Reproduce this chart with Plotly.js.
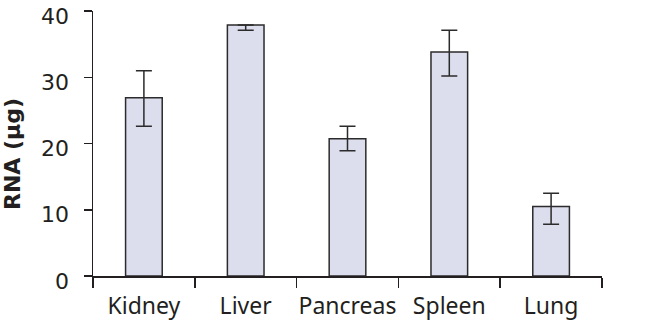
<!DOCTYPE html>
<html><head><meta charset="utf-8">
<script src="https://cdn.plot.ly/plotly-3.0.1.min.js"></script>
<style>body{margin:0;background:#fff}#c{width:666px;height:325px}</style>
</head><body><div id="c"></div>
<script>
var tissues = ["Kidney", "Liver", "Pancreas", "Spleen", "Lung"];
var rnaValues = [26.9, 37.9, 20.7, 33.8, 10.5];
var errPlus = [4.1, 0, 1.9, 3.3, 2.0];
var errMinus = [4.3, 0.8, 1.8, 3.6, 2.7];
var yTicks = [0, 10, 20, 30, 40];

var trace = {
  type: "bar", x: tissues, y: rnaValues,
  marker: {color: "#dcdded", line: {color: "#2b2b2b", width: 1.5}},
  error_y: {type: "data", symmetric: false, array: errPlus, arrayminus: errMinus,
            color: "#2b2b2b", thickness: 1.5, width: 8},
  hoverinfo: "none"
};
var font = "'Noto Sans', 'DejaVu Sans', sans-serif";
var layout = {
  width: 666, height: 325,
  margin: {l: 93, r: 64, t: 11, b: 49},
  paper_bgcolor: "#fff", plot_bgcolor: "#fff",
  bargap: 0.64, showlegend: false,
  font: {family: font, color: "#231f20", size: 20},
  xaxis: {showline: true, linecolor: "#231f20", linewidth: 1.5, automargin: false,
          ticks: "outside", tickson: "boundaries", ticklen: 10, tickwidth: 1.5, tickcolor: "#231f20",
          tickangle: 0, tickfont: {size: 23}, ticklabelstandoff: 9, showgrid: false, zeroline: false},
  yaxis: {range: [0, 40], tickmode: "array", tickvals: yTicks, ticktext: yTicks.map(String),
          showline: true, linecolor: "#231f20", linewidth: 1.5, automargin: false,
          ticks: "outside", ticklen: 8, tickwidth: 1.5, tickcolor: "#231f20",
          ticklabeloverflow: "allow", ticklabelshift: 5,
          tickfont: {size: 22, family: "'DejaVu Sans', sans-serif"}, ticklabelstandoff: 10,
          showgrid: false, zeroline: false,
          title: {text: "<b>RNA (µg)</b>&nbsp;&nbsp;&nbsp;", font: {size: 22, family: "'DejaVu Sans', sans-serif"}, standoff: 14}}
};
Plotly.newPlot("c", [trace], layout, {displayModeBar: false, staticPlot: true});
</script></body></html>
